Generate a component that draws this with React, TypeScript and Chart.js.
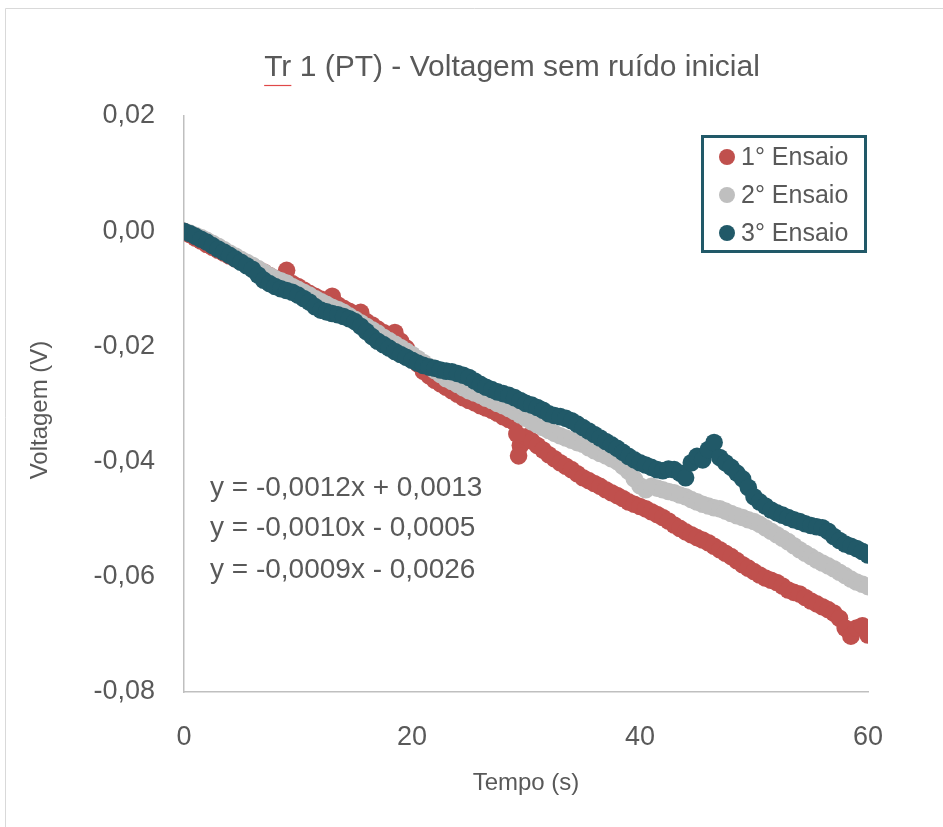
import React, { useEffect, useRef } from "react";
import { Chart, registerables } from "chart.js";
Chart.register(...registerables);

const FONT = '"Liberation Sans", Arial, sans-serif';
const TEXT = "#595959";

const TITLE = "Tr 1 (PT) - Voltagem sem ruído inicial";
const X_TITLE = "Tempo (s)";
const Y_TITLE = "Voltagem (V)";
const SERIES_NAMES = ["1° Ensaio", "2° Ensaio", "3° Ensaio"];
const SERIES_COLORS = ["#c0504d", "#bfbfbf", "#215968"];
const EQUATIONS = [
  "y = -0,0012x + 0,0013",
  "y = -0,0010x - 0,0005",
  "y = -0,0009x - 0,0026",
];
const X_TICKS = [0, 20, 40, 60];
const Y_TICKS = [0.02, 0, -0.02, -0.04, -0.06, -0.08];

// sampling times (s): 0, 0.5, 1, ... 60
const TIME = Array.from({ length: 121 }, (_, i) => i * 0.5);

// 1° Ensaio (V)
const red = [
  0, -0.0006, -0.0012, -0.0017, -0.0023, -0.0028, -0.0033, -0.0038, -0.0043, -0.0048,
  -0.0052, -0.0057, -0.0061, -0.0066, -0.0071, -0.0077, -0.0082, -0.0088, -0.0068, -0.0091,
  -0.0096, -0.0102, -0.0108, -0.0113, -0.0118, -0.0123, -0.0113, -0.0128, -0.0134, -0.0139,
  -0.0144, -0.0141, -0.0157, -0.0163, -0.017, -0.0176, -0.0181, -0.0176, -0.0191, -0.0203,
  -0.0216, -0.023, -0.0243, -0.0251, -0.0259, -0.0265, -0.0271, -0.0277, -0.0283, -0.0289,
  -0.0294, -0.0298, -0.0303, -0.0307, -0.0311, -0.0316, -0.0322, -0.0327, -0.0332, -0.0372,
  -0.0357, -0.0364, -0.0372, -0.038, -0.0388, -0.0395, -0.0402, -0.0408, -0.0414, -0.0421,
  -0.0428, -0.0433, -0.0438, -0.0443, -0.0449, -0.0454, -0.0459, -0.0464, -0.047, -0.0474,
  -0.0478, -0.0482, -0.0487, -0.0492, -0.0497, -0.0503, -0.051, -0.0516, -0.0522, -0.0527,
  -0.0532, -0.0536, -0.0541, -0.0547, -0.0553, -0.0559, -0.0565, -0.0572, -0.0579, -0.0585,
  -0.0591, -0.0597, -0.0602, -0.0606, -0.061, -0.0616, -0.0623, -0.0627, -0.063, -0.0636,
  -0.0642, -0.0647, -0.0652, -0.0657, -0.0663, -0.0672, -0.0689, -0.0703, -0.0689, -0.0685,
  -0.0701,
];
// extra 1° Ensaio readings around the dip near 29 s
const redExtraT = [29.2, 29.35];
const redExtraV = [-0.0352, -0.039];

// 2° Ensaio (V)
const gray = [
  0, -0.0003, -0.0007, -0.0011, -0.0016, -0.0021, -0.0026, -0.0032, -0.0038, -0.0043,
  -0.0049, -0.0054, -0.0059, -0.0065, -0.0071, -0.0077, -0.0082, -0.0086, -0.009, -0.0096,
  -0.0101, -0.0106, -0.0111, -0.0117, -0.0122, -0.0127, -0.0132, -0.0136, -0.0141, -0.0147,
  -0.0153, -0.0159, -0.0165, -0.0171, -0.0177, -0.0184, -0.019, -0.0196, -0.0202, -0.0208,
  -0.0214, -0.0221, -0.0228, -0.0235, -0.0242, -0.0249, -0.0256, -0.0261, -0.0266, -0.0272,
  -0.0277, -0.0281, -0.0285, -0.029, -0.0294, -0.0299, -0.0303, -0.0308, -0.0313, -0.0319,
  -0.0325, -0.0331, -0.0336, -0.0341, -0.0346, -0.0351, -0.0355, -0.0359, -0.0363, -0.0367,
  -0.037, -0.0376, -0.0381, -0.0386, -0.039, -0.0395, -0.04, -0.0408, -0.0417, -0.043,
  -0.0442, -0.0449, -0.0443, -0.0446, -0.0449, -0.0452, -0.0454, -0.0458, -0.0461, -0.0466,
  -0.047, -0.0474, -0.0477, -0.048, -0.0482, -0.0486, -0.049, -0.0494, -0.0497, -0.0501,
  -0.0504, -0.0509, -0.0515, -0.0521, -0.0527, -0.0533, -0.0539, -0.0546, -0.0553, -0.0559,
  -0.0565, -0.0571, -0.0576, -0.0581, -0.0586, -0.0592, -0.0598, -0.0604, -0.0609, -0.0613,
  -0.0617,
];

// 3° Ensaio (V)
const teal = [
  0, -0.0004, -0.0009, -0.0014, -0.0019, -0.0025, -0.0031, -0.0036, -0.0042, -0.0048,
  -0.0054, -0.006, -0.0066, -0.0076, -0.0085, -0.0091, -0.0096, -0.01, -0.0103, -0.0106,
  -0.0111, -0.0117, -0.0123, -0.0131, -0.0137, -0.014, -0.0143, -0.0145, -0.0148, -0.0152,
  -0.0157, -0.0165, -0.0174, -0.0183, -0.0191, -0.0197, -0.0203, -0.0209, -0.0214, -0.0219,
  -0.0224, -0.0229, -0.0233, -0.0236, -0.0238, -0.0241, -0.0243, -0.0244, -0.0247, -0.025,
  -0.0254, -0.026, -0.0266, -0.0271, -0.0275, -0.0279, -0.0282, -0.0285, -0.0289, -0.0294,
  -0.0299, -0.0302, -0.0306, -0.0311, -0.0317, -0.032, -0.0322, -0.0325, -0.0329, -0.0335,
  -0.0341, -0.0347, -0.0353, -0.0359, -0.0365, -0.0371, -0.0377, -0.0384, -0.0391, -0.0397,
  -0.0402, -0.0406, -0.041, -0.0414, -0.0416, -0.0413, -0.0414, -0.042, -0.0428, -0.0402,
  -0.0391, -0.0397, -0.0379, -0.0367, -0.0393, -0.0402, -0.041, -0.042, -0.043, -0.0445,
  -0.0461, -0.047, -0.0477, -0.0484, -0.0489, -0.0493, -0.0497, -0.0501, -0.0504, -0.0508,
  -0.0511, -0.0513, -0.0515, -0.0521, -0.053, -0.0537, -0.0543, -0.0547, -0.0551, -0.0556,
  -0.0562,
];

const toPoints = (t: number[], v: number[]) => t.map((x, i) => ({ x, y: v[i] }));

const fmtY = (v: number) => {
  if (Math.abs(v) < 1e-9) return "0,00";
  return v.toFixed(2).replace(".", ",");
};

const overlayPlugin = {
  id: "overlay",
  afterDraw(chart: any) {
    const ctx = chart.ctx as CanvasRenderingContext2D;
    ctx.save();
    ctx.strokeStyle = "#d9d9d9";
    ctx.lineWidth = 1;
    ctx.beginPath();
    ctx.moveTo(5.5, 827);
    ctx.lineTo(5.5, 8.5);
    ctx.lineTo(943, 8.5);
    ctx.stroke();

    ctx.fillStyle = TEXT;
    ctx.font = `30px ${FONT}`;
    ctx.textAlign = "center";
    ctx.textBaseline = "middle";
    ctx.fillText(TITLE, 512, 68);
    const tw = ctx.measureText(TITLE).width;
    const trw = ctx.measureText("Tr").width;
    const sx = 512 - tw / 2;
    ctx.strokeStyle = "#e04848";
    ctx.lineWidth = 1.2;
    ctx.beginPath();
    ctx.moveTo(sx, 85.5);
    ctx.lineTo(sx + trw, 85.5);
    ctx.stroke();

    ctx.font = `24px ${FONT}`;
    ctx.fillText(X_TITLE, 526, 783);
    ctx.save();
    ctx.translate(40, 410);
    ctx.rotate(-Math.PI / 2);
    ctx.fillText(Y_TITLE, 0, 0);
    ctx.restore();

    ctx.font = `28px ${FONT}`;
    ctx.textAlign = "left";
    const eqY = [488, 528, 570];
    EQUATIONS.forEach((e, i) => ctx.fillText(e, 210, eqY[i]));

    ctx.strokeStyle = "#215968";
    ctx.lineWidth = 3;
    ctx.strokeRect(702.5, 136.5, 163, 115);
    ctx.font = `25px ${FONT}`;
    const ly = [157, 195, 233];
    SERIES_NAMES.forEach((n, i) => {
      ctx.fillStyle = SERIES_COLORS[i];
      ctx.beginPath();
      ctx.arc(727, ly[i], 8, 0, Math.PI * 2);
      ctx.fill();
      ctx.fillStyle = TEXT;
      ctx.fillText(n, 741, ly[i] + 1);
    });
    ctx.restore();
  },
};

export default function App() {
  const ref = useRef<HTMLCanvasElement | null>(null);
  useEffect(() => {
    document.body.style.margin = "0";
    const canvas = ref.current!;
    const series = [
      toPoints(TIME, red).concat(toPoints(redExtraT, redExtraV)),
      toPoints(TIME, gray),
      toPoints(TIME, teal),
    ];
    const chart = new Chart(canvas, {
      type: "scatter",
      data: {
        datasets: series.map((d, i) => ({
          label: SERIES_NAMES[i],
          data: d,
          backgroundColor: SERIES_COLORS[i],
          borderColor: SERIES_COLORS[i],
          pointRadius: 8.8,
          pointBorderWidth: 0,
          pointHoverRadius: 8.8,
          order: 3 - i,
        })),
      },
      options: {
        animation: false,
        responsive: false,
        devicePixelRatio: 1,
        events: [],
        layout: { padding: { top: 116, right: 75, left: 0, bottom: 0 } },
        plugins: {
          legend: { display: false },
          title: { display: false },
          tooltip: { enabled: false },
        },
        scales: {
          x: {
            type: "linear",
            min: 0,
            max: 60,
            afterFit: (s: any) => {
              s.height = 135;
            },
            afterBuildTicks: (s: any) => {
              s.ticks = X_TICKS.map((value) => ({ value }));
            },
            grid: { display: false, drawTicks: false },
            border: { display: true, color: "#bfbfbf", width: 1.5 },
            ticks: {
              color: TEXT,
              font: { family: FONT, size: 27 },
              padding: 29,
              maxRotation: 0,
              callback: (v: any) => String(v),
            },
          },
          y: {
            type: "linear",
            min: -0.08,
            max: 0.02,
            afterFit: (s: any) => {
              s.width = 184;
            },
            afterBuildTicks: (s: any) => {
              s.ticks = Y_TICKS.map((value) => ({ value }));
            },
            grid: { display: false, drawTicks: false },
            border: { display: true, color: "#bfbfbf", width: 1.5 },
            ticks: {
              color: TEXT,
              font: { family: FONT, size: 27 },
              padding: 29,
              callback: (v: any) => fmtY(Number(v)),
            },
          },
        },
      },
      plugins: [overlayPlugin],
    });
    return () => chart.destroy();
  }, []);
  return (
    <canvas
      ref={ref}
      width={943}
      height={827}
      style={{ display: "block", width: 943, height: 827 }}
    />
  );
}
